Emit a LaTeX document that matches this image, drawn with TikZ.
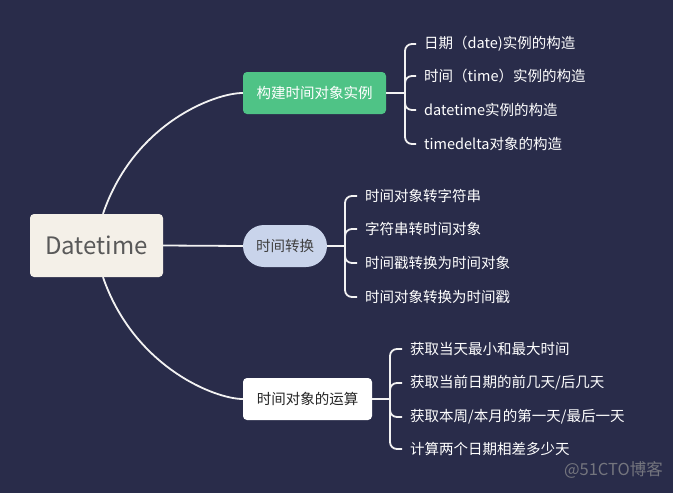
\documentclass[tikz,border=0pt]{standalone}
\usepackage{fontspec}
\setmainfont{Noto Sans CJK SC}
\definecolor{navy}{HTML}{292C4A}
\definecolor{rootfill}{HTML}{F4F0E8}
\definecolor{greenfill}{HTML}{4FC386}
\definecolor{bluefill}{HTML}{C9D4EB}
\definecolor{linecol}{HTML}{F2F2F2}
\begin{document}
\begin{tikzpicture}[x=1pt, y=-1pt,
    every node/.style={font=\fontsize{14.5}{17}\selectfont, inner sep=0pt},
    link/.style={draw=linecol, line width=1.8pt},
    brace/.style={link, rounded corners=7pt},
    branch/.style={minimum height=42pt, rounded corners=4pt},
    leaf/.style={anchor=west, inner xsep=3pt, text=white}]
  % Bakgrunn
  \fill[navy] (0,0) rectangle (673,493);
  % Rot
  \node[fill=rootfill, minimum width=133pt, minimum height=63pt, rounded corners=4pt,
        text=black!65, font=\fontsize{24}{28}\selectfont] (dt) at (96.5,245.5) {Datetime};
  % Grener
  \node[branch, fill=greenfill, minimum width=143pt, text=white] (b1) at (314.5,93) {构建时间对象实例};
  \node[branch, fill=bluefill, minimum width=84pt, rounded corners=21pt, text=black!75] (b2) at (285,246) {时间转换};
  \node[branch, fill=white, minimum width=129pt, text=black!85] (b3) at (307.5,399) {时间对象的运算};
  % Kurver fra roten
  \draw[link] ([xshift=6.5pt]dt.north) .. controls (134,123) and (215,93) .. (b1.west);
  \draw[link] (dt.east) -- (b2.west);
  \draw[link] ([xshift=6.5pt]dt.south) .. controls (134,367) and (215,399) .. (b3.west);
  % Blader, gren 1
  \coordinate (j1) at (405,93);
  \node[leaf] (l11) at (421,44) {日期（date)实例的构造};
  \node[leaf] (l12) at (421,76) {时间（time）实例的构造};
  \node[leaf] (l13) at (421,110) {datetime实例的构造};
  \node[leaf] (l14) at (421,144) {timedelta对象的构造};
  % Blader, gren 2
  \coordinate (j2) at (345,246);
  \node[leaf] (l21) at (362,196) {时间对象转字符串};
  \node[leaf] (l22) at (362,229) {字符串转时间对象};
  \node[leaf] (l23) at (362,263) {时间戳转换为时间对象};
  \node[leaf] (l24) at (362,297) {时间对象转换为时间戳};
  % Blader, gren 3
  \coordinate (j3) at (390,399);
  \node[leaf] (l31) at (407,349) {获取当天最小和最大时间};
  \node[leaf] (l32) at (407,383) {获取当前日期的前几天/后几天};
  \node[leaf] (l33) at (407,417) {获取本周/本月的第一天/最后一天};
  \node[leaf] (l34) at (407,449) {计算两个日期相差多少天};
  % Klammer
  \draw[link] (b1.east) -- (j1);
  \draw[link] (b2.east) -- (j2);
  \draw[link] (b3.east) -- (j3);
  \foreach \g in {1,2,3}
    \foreach \k in {1,2,3,4}
      \draw[brace] (j\g) |- ([xshift=-5pt]l\g\k.west);
  % Vannmerke
  \node[anchor=east, text=black!45!navy!60!white, font=\fontsize{16.5}{19}\selectfont] (wm) at (663,470) {@51CTO博客};
\end{tikzpicture}
\end{document}
